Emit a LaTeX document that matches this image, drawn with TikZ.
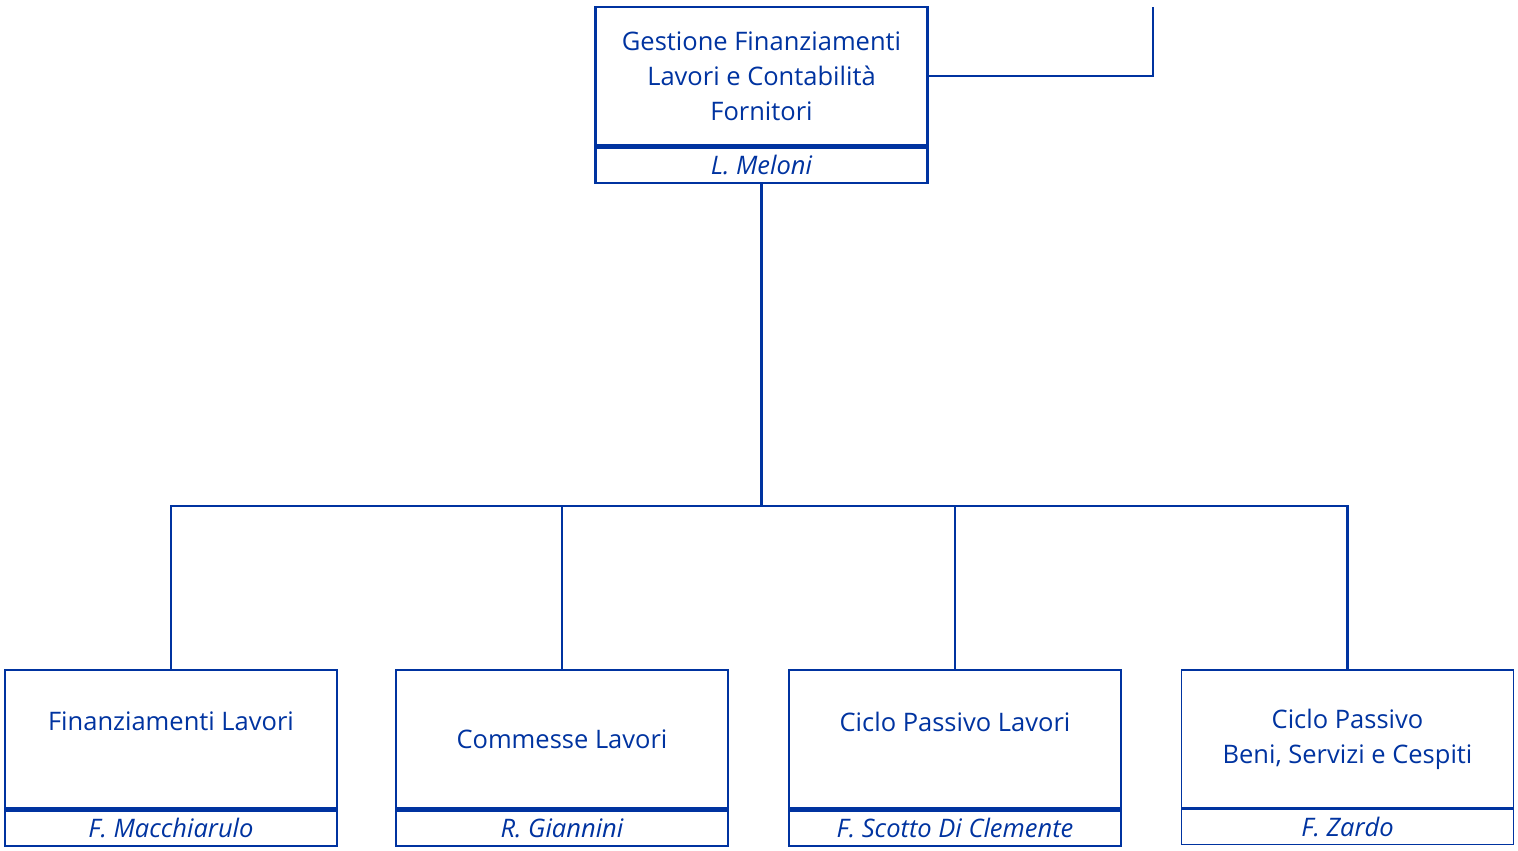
\documentclass[tikz,border=0pt]{standalone}
\usepackage{fontspec}
\setmainfont{Open Sans}
\usetikzlibrary{positioning}
\definecolor{ublue}{RGB}{0,51,160}
\tikzset{
  unit/.style={draw=ublue, line width=1.25pt, minimum width=166pt, minimum height=69pt,
    inner sep=0pt, align=center, text=ublue, font=\fontsize{12.75}{17.5}\selectfont},
  head/.style={draw=ublue, line width=1.25pt, minimum width=166pt, minimum height=17.75pt,
    inner sep=0pt, text=ublue, font=\fontsize{12.75}{15}\selectfont\itshape},
  thin/.style={line width=0.6pt},
  link/.style={draw=ublue, line width=1.4pt},
}
\begin{document}
\begin{tikzpicture}[x=0.5pt,y=-0.5pt]
  \useasboundingbox (0,0) rectangle (1518,850);
  % direzione
  \node[unit] (gfl) at (761.5,76) {Gestione Finanziamenti\\Lavori e Contabilità\\Fornitori};
  \node[head,anchor=north] (gfl-r) at (gfl.south) {L. Meloni};
  % uffici
  \node[unit] (fl) at (171,739) {Finanziamenti Lavori\\\mbox{}};
  \node[head,anchor=north] (fl-r) at (fl.south) {F. Macchiarulo};
  \node[unit] (cl) at (562,739) {Commesse Lavori};
  \node[head,anchor=north] (cl-r) at (cl.south) {R. Giannini};
  \node[unit] (cpl) at (955,739) {Ciclo Passivo Lavori\\\mbox{}};
  \node[head,anchor=north] (cpl-r) at (cpl.south) {F. Scotto Di Clemente};
  \node[unit,thin] (cpb) at (1347.5,739) {Ciclo Passivo\\Beni, Servizi e Cespiti};
  \node[head,thin,anchor=north] (cpb-r) at (cpb.south) {F. Zardo};
  % collegamenti
  \coordinate (bus) at (761.5,506);
  \coordinate (up) at (1153,7);
  \draw[link] (gfl.east) -| (up);
  \draw[link] (gfl-r.south) -- (bus);
  \draw[link] (fl.north) |- (bus);
  \draw[link] (cl.north) |- (bus);
  \draw[link] (cpl.north) |- (bus);
  \draw[link] (cpb.north) |- (bus);
\end{tikzpicture}
\end{document}
